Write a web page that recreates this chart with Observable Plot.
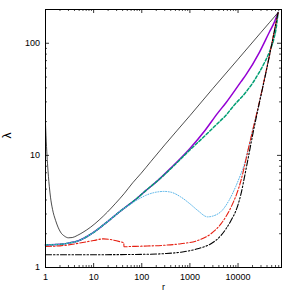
<!DOCTYPE html>
<html><head><meta charset="utf-8">
<script src="https://cdn.jsdelivr.net/npm/d3@7"></script>
<script src="https://cdn.jsdelivr.net/npm/@observablehq/plot@0.6"></script>
<style>html,body{margin:0;padding:0;background:#fff}</style>
</head><body><div id="chart"></div>
<script>
const xTicks = [1, 10, 100, 1000, 10000];
const yTicks = [1, 10, 100];

const rBlackSolid = [1, 1.05, 1.1, 1.15, 1.2, 1.27, 1.4, 1.62, 2.05, 2.5, 3.0, 3.6, 4.57, 6, 8.66, 13, 19.3, 28, 42.9, 65, 95.5, 154, 300, 1000, 3000, 10000, 30000, 68000];
const lamBlackSolid = [19.5, 12, 8.5, 6.5, 5.3, 4.24, 3.3, 2.63, 2.07, 1.9, 1.84, 1.85, 1.93, 2.06, 2.29, 2.65, 3.12, 3.7, 4.55, 5.7, 6.87, 8.8, 12.4, 22.6, 39.5, 72, 125, 188];

const rPurple = [1, 2, 3, 5, 7, 11, 17, 25, 40, 55, 80, 121, 200, 400, 960, 2000, 3780, 5620, 11550, 14680, 27800, 44900, 56000, 68000];
const lamPurple = [1.59, 1.61, 1.65, 1.74, 1.87, 2.12, 2.45, 2.8, 3.3, 3.65, 4.15, 4.85, 5.8, 7.7, 11.3, 16.4, 23.8, 29.5, 45.5, 52.5, 83, 126, 152, 188];

const rGreen = [1, 2, 3, 5, 7, 11, 17, 25, 40, 55, 80, 121, 200, 400, 960, 2000, 3780, 5620, 8000, 14680, 20000, 27800, 36000, 44900, 55000, 61700, 68000];
const lamGreen = [1.59, 1.61, 1.65, 1.74, 1.87, 2.12, 2.45, 2.8, 3.3, 3.65, 4.15, 4.85, 5.8, 7.6, 11.0, 14.8, 19.3, 22.8, 27.5, 36.8, 44, 55.4, 68, 83.6, 108, 135, 188];

const rCyan = [1, 2, 3, 5, 7, 11, 17, 25, 40, 55, 80, 121, 200, 291, 400, 650, 1000, 1450, 2335, 3500, 4420, 6500, 9000, 11550, 13500, 15900, 20000, 27800, 36000, 44900, 56000, 68000];
const lamCyan = [1.59, 1.61, 1.65, 1.74, 1.87, 2.12, 2.45, 2.8, 3.3, 3.6, 4.0, 4.4, 4.7, 4.77, 4.7, 4.25, 3.7, 3.23, 2.83, 2.95, 3.15, 3.97, 5.3, 6.9, 8.3, 11.0, 16.5, 30, 50, 78, 125, 188];

const rRed = [1, 2, 3, 5, 10, 16, 25, 35, 42.4, 42.6, 60, 100, 300, 650, 1450, 2740, 4420, 7150, 9500, 11550, 13500, 15900, 20000, 27800, 36000, 44900, 56000, 68000];
const lamRed = [1.54, 1.56, 1.59, 1.65, 1.74, 1.8, 1.76, 1.7, 1.66, 1.53, 1.54, 1.55, 1.58, 1.63, 1.74, 2.0, 2.45, 3.45, 4.6, 6.0, 7.9, 10.8, 16.5, 30, 50, 78, 125, 188];

const rBlackDD = [1, 10, 100, 300, 650, 1450, 2740, 4420, 7150, 9500, 11550, 13500, 15900, 20000, 27800, 36000, 44900, 56000, 68000];
const lamBlackDD = [1.30, 1.30, 1.31, 1.33, 1.37, 1.47, 1.63, 1.93, 2.63, 3.4, 4.55, 6.3, 9.0, 15, 29.5, 49, 77, 124, 188];

const toSeries = (rs, ls) => rs.map((r, i) => ({r, lam: ls[i]}));

const xMinor = [];
for (const d of [1, 10, 100, 1000, 10000]) for (let k = 2; k <= 9; k++) if (d * k <= 80000) xMinor.push(d * k);
const yMinor = [];
for (const d of [1, 10, 100]) for (let k = 2; k <= 9; k++) if (d * k <= 200) yMinor.push(d * k);

const W = 297, H = 297, mL = 45, mR = 16, mT = 9, mB = 30;
const pw = W - mL - mR, ph = H - mT - mB;
const font = "'Liberation Sans', Arial, sans-serif";

const chart = Plot.plot({
  width: W, height: H,
  marginLeft: mL, marginRight: mR, marginTop: mT, marginBottom: mB,
  style: {fontFamily: font, fontSize: "9px", background: "#fff", color: "#000"},
  x: {type: "log", domain: [1, 80000], axis: null},
  y: {type: "log", domain: [1, 200], axis: null},
  marks: [
    Plot.tickX(xTicks, {x: d => d, insetTop: ph - 4, stroke: "#000", strokeWidth: 0.8}),
    Plot.tickX(xTicks, {x: d => d, insetBottom: ph - 4, stroke: "#000", strokeWidth: 0.8}),
    Plot.tickX(xMinor, {x: d => d, insetTop: ph - 2, stroke: "#000", strokeWidth: 0.7}),
    Plot.tickX(xMinor, {x: d => d, insetBottom: ph - 2, stroke: "#000", strokeWidth: 0.7}),
    Plot.tickY(yTicks, {y: d => d, insetRight: pw - 4, stroke: "#000", strokeWidth: 0.8}),
    Plot.tickY(yTicks, {y: d => d, insetLeft: pw - 4, stroke: "#000", strokeWidth: 0.8}),
    Plot.tickY(yMinor, {y: d => d, insetRight: pw - 2, stroke: "#000", strokeWidth: 0.7}),
    Plot.tickY(yMinor, {y: d => d, insetLeft: pw - 2, stroke: "#000", strokeWidth: 0.7}),
    Plot.axisX(xTicks, {anchor: "bottom", tickSize: 0, tickPadding: 6, tickFormat: d => String(d), label: null, fontSize: 9}),
    Plot.axisY(yTicks, {anchor: "left", tickSize: 0, tickPadding: 5.5, tickFormat: d => String(d), label: null, fontSize: 9}),
    Plot.line(toSeries(rPurple, lamPurple), {x: "r", y: "lam", stroke: "#9400d3", strokeWidth: 1.5, curve: "monotone-x"}),
    Plot.line(toSeries(rGreen, lamGreen), {x: "r", y: "lam", stroke: "#009e73", strokeWidth: 1.5, strokeDasharray: "3,2", curve: "monotone-x"}),
    Plot.line(toSeries(rCyan, lamCyan), {x: "r", y: "lam", stroke: "#56b4e9", strokeWidth: 1, strokeDasharray: "1,1.6", curve: "monotone-x"}),
    Plot.line(toSeries(rRed, lamRed), {x: "r", y: "lam", stroke: "#e51e10", strokeWidth: 1.1, strokeDasharray: "6,2,1.5,2", curve: "monotone-x"}),
    Plot.line(toSeries(rBlackDD, lamBlackDD), {x: "r", y: "lam", stroke: "#000", strokeWidth: 1.1, strokeDasharray: "6,2,1.5,2,1.5,2", curve: "monotone-x"}),
    Plot.line(toSeries(rBlackSolid, lamBlackSolid), {x: "r", y: "lam", stroke: "#000", strokeWidth: 0.7, curve: "monotone-x"}),
    Plot.frame({stroke: "#000", strokeWidth: 1}),
    Plot.text(["λ"], {frameAnchor: "left", dx: -38, rotate: -90, fontSize: 12, fontFamily: font}),
    Plot.text(["r"], {frameAnchor: "bottom", dy: 22, fontSize: 9, fontFamily: font})
  ]
});
document.getElementById("chart").appendChild(chart);
</script>
</body></html>
